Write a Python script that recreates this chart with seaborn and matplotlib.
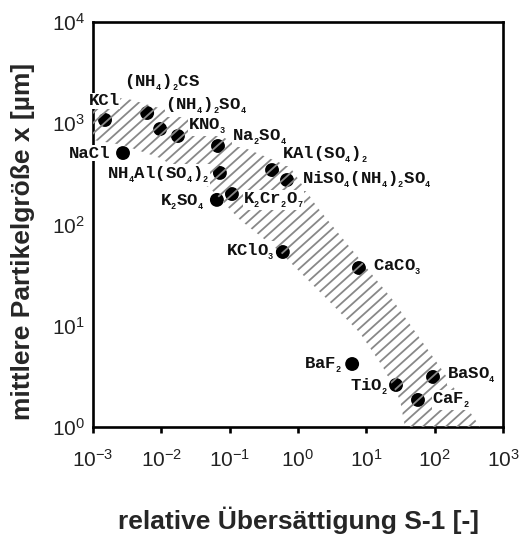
import numpy as np
import pandas as pd
import matplotlib
matplotlib.use("Agg")
import matplotlib.pyplot as plt
import seaborn as sns
from matplotlib.patches import Polygon
from matplotlib.collections import LineCollection

# ---- data -------------------------------------------------------------
compounds = ["KCl", "(NH$_{_4}$)$_{_2}$CS", "(NH$_{_4}$)$_{_2}$SO$_{_4}$", "KNO$_{_3}$", "NaCl",
             "Na$_{_2}$SO$_{_4}$", "NH$_{_4}$Al(SO$_{_4}$)$_{_2}$", "K$_{_2}$SO$_{_4}$",
             "K$_{_2}$Cr$_{_2}$O$_{_7}$", "KAl(SO$_{_4}$)$_{_2}$",
             "NiSO$_{_4}$(NH$_{_4}$)$_{_2}$SO$_{_4}$", "KClO$_{_3}$", "CaCO$_{_3}$",
             "BaF$_{_2}$", "TiO$_{_2}$", "BaSO$_{_4}$", "CaF$_{_2}$"]
supersat = [1.50e-3, 6.2e-3, 9.6e-3, 0.0175, 2.75e-3,
            0.0675, 0.072, 0.065, 0.108,
            0.417, 0.69, 0.60, 7.8,
            6.2, 27.2, 94.6, 57.0]
size_um = [1077, 1262, 877, 748, 508,
           596, 323, 175, 200,
           345, 275, 53.5, 37.2,
           4.19, 2.60, 3.12, 1.85]

# hatched band (upper and lower boundary of the region)
band_upper_x = [1.0e-3, 2.94e-3, 0.0263, 0.112, 0.764, 1.90, 24.5, 120, 461]
band_upper_y = [1700, 1775, 1153, 638, 370, 149, 17.9, 3.91, 1.0]
band_lower_x = [36.8, 31.1, 17.5, 8.07, 2.75, 0.509, 0.142, 0.0515, 9.57e-3, 2.75e-3, 1.0e-3]
band_lower_y = [1.0, 1.85, 3.91, 8.48, 17.9, 56, 111, 229, 454, 610, 684]

# label offsets (pixels) and alignment
label_dx = [-1, 15, 5, 10, -13, 14, -10, -12, 11, 10, 15, -8, 14, -10, -8, 14, 14]
label_dy = [19, 30, 23, 10, 0, 9, -2, -2, -6, 15, 0, 0, 1, -1, -2, 2, 0]
label_ha = ["center", "center", "left", "left", "right", "left", "right", "right", "left",
            "left", "left", "right", "left", "right", "right", "left", "left"]

df = pd.DataFrame({"S": supersat, "x": size_um, "name": compounds})

# ---- style ------------------------------------------------------------
sns.set_theme(style="ticks")
plt.rcParams["font.family"] = ["Liberation Sans", "DejaVu Sans"]
plt.rcParams["mathtext.fontset"] = "custom"
plt.rcParams["mathtext.rm"] = "Liberation Mono:bold"
plt.rcParams["mathtext.it"] = "Liberation Mono:bold"
plt.rcParams["mathtext.bf"] = "Liberation Mono:bold"
plt.rcParams["axes.unicode_minus"] = False

fig = plt.figure(figsize=(5.2, 5.41), dpi=100)
ax = fig.add_axes([93 / 520, 1 - 427 / 541, 410 / 520, 405 / 541])

sns.scatterplot(data=df, x="S", y="x", ax=ax, color="black", s=100,
                edgecolor="none", zorder=3, legend=False)

ax.set_xscale("log")
ax.set_yscale("log")
ax.set_xlim(1e-3, 1e3)
ax.set_ylim(1e0, 1e4)

# band region (invisible patch used as clip path for the hatch lines)
verts = list(zip(band_upper_x, band_upper_y)) + list(zip(band_lower_x, band_lower_y))
band = Polygon(verts, closed=True, facecolor="none", edgecolor="none", zorder=4)
ax.add_patch(band)

# diagonal hatch lines (style only), built in axes pixel space
W, H = ax.bbox.width, ax.bbox.height
theta = np.deg2rad(42)
dvec = np.array([np.cos(theta), np.sin(theta)])
nvec = np.array([-np.sin(theta), np.cos(theta)])
spacing = 11.5 * np.sin(theta)
corners = np.array([[0, 0], [W, 0], [0, H], [W, H]])
cn, cd = corners @ nvec, corners @ dvec
segs = []
for c in np.arange(cn.min(), cn.max() + spacing, spacing):
    p0 = c * nvec + cd.min() * dvec
    p1 = c * nvec + cd.max() * dvec
    segs.append([(p0[0] / W, p0[1] / H), (p1[0] / W, p1[1] / H)])
hatch = LineCollection(segs, transform=ax.transAxes, colors="#888888",
                       linewidths=1.3, zorder=4)
hatch.set_clip_path(band)
ax.add_collection(hatch)

for name, sx, sy, dx, dy, ha in zip(compounds, supersat, size_um,
                                     label_dx, label_dy, label_ha):
    ax.annotate(name, (sx, sy), xytext=(dx, dy), textcoords="offset pixels",
                ha=ha, va="center", fontsize=12.5, family="Liberation Mono",
                fontweight="bold", color="#111111", zorder=6, annotation_clip=False,
                bbox=dict(facecolor="white", edgecolor="none", pad=0.3))

for sp in ax.spines.values():
    sp.set_linewidth(1.9)
    sp.set_color("black")

ax.xaxis.set_major_locator(matplotlib.ticker.LogLocator(base=10, numticks=10))
ax.yaxis.set_major_locator(matplotlib.ticker.LogLocator(base=10, numticks=10))
ax.xaxis.set_minor_locator(matplotlib.ticker.NullLocator())
ax.yaxis.set_minor_locator(matplotlib.ticker.NullLocator())
ax.tick_params(axis="x", direction="out", length=4.5, width=1.9, pad=11,
               labelsize=15, labelcolor="#222222", color="black")
ax.tick_params(axis="y", direction="out", length=0, width=1.9, pad=6,
               labelsize=15, labelcolor="#222222")

ax.set_xlabel("relative Übersättigung S-1 [-]", fontsize=19, fontweight="bold",
              labelpad=26)
ax.set_ylabel("mittlere Partikelgröße x [µm]", fontsize=19, fontweight="bold")
ax.yaxis.set_label_coords(-0.142, 0.457)

fig.savefig("out.png", dpi=100)
